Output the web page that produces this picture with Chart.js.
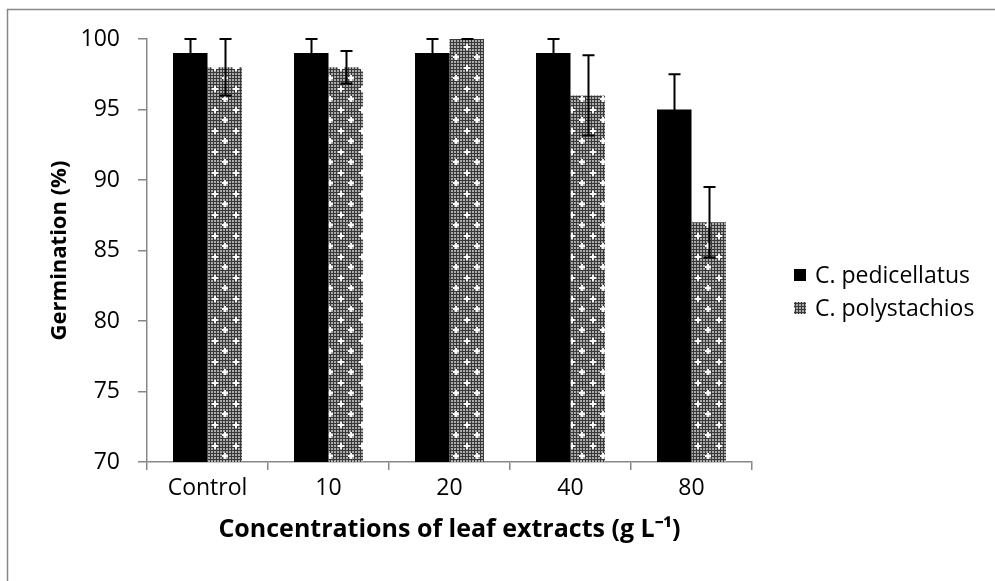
<!DOCTYPE html>
<html>
<head>
<meta charset="utf-8">
<script src="https://cdn.jsdelivr.net/npm/chart.js@4.4.1/dist/chart.umd.min.js"></script>
<style>
  html, body { margin: 0; padding: 0; background: #fff; }
  #wrap { width: 995px; height: 581px; }
</style>
</head>
<body>
<div id="wrap"><canvas id="c" width="995" height="581"></canvas></div>
<script>
const categories = ['Control', '10', '20', '40', '80'];
const pedicellatus = [99, 99, 99, 99, 95];
const pedicellatusErr = [1, 1, 1, 1, 2.5];
const polystachios = [98, 98, 100, 96, 87];
const polystachiosErr = [2, 1.15, 0, 2.85, 2.5];
const seriesNames = ['C. pedicellatus', 'C. polystachios'];
const yTitle = 'Germination (%)';
const xTitle = 'Concentrations of leaf extracts (g L\u207B\u00B9)';

const FONT = "'Open Sans', 'Liberation Sans', sans-serif";
const AXIS_GRAY = '#878787';

function makePattern() {
  const t = document.createElement('canvas');
  t.width = 21; t.height = 21;
  const g = t.getContext('2d');
  g.fillStyle = '#383838';
  g.fillRect(0, 0, 21, 21);
  g.fillStyle = '#ababab';
  for (let y = 0; y < 21; y += 3) {
    for (let x = 0; x < 21; x += 3) {
      g.fillRect(x + 1, y + 1, 2, 2);
    }
  }
  g.fillStyle = 'rgba(255,255,255,0.95)';
  [[5, 5], [15, 15]].forEach(([cx, cy]) => {
    g.fillRect(cx - 1, cy - 3, 2, 6);
    g.fillRect(cx - 3, cy - 1, 6, 2);
  });
  const ctx = document.getElementById('c').getContext('2d');
  return ctx.createPattern(t, 'repeat');
}
const pattern = makePattern();

const errors = [pedicellatusErr, polystachiosErr];

const extrasPlugin = {
  id: 'extras',
  afterDatasetsDraw(chart) {
    const ctx = chart.ctx;
    const y = chart.scales.y;
    ctx.save();
    ctx.strokeStyle = '#000';
    ctx.lineWidth = 2;
    chart.data.datasets.forEach((ds, di) => {
      const meta = chart.getDatasetMeta(di);
      meta.data.forEach((bar, i) => {
        const v = ds.data[i];
        const e = errors[di][i];
        const x = Math.round(bar.x) + 0.5;
        const yt = y.getPixelForValue(v + e);
        const yb = y.getPixelForValue(v - e);
        ctx.beginPath();
        ctx.moveTo(x, yt); ctx.lineTo(x, yb);
        ctx.moveTo(x - 6, yt); ctx.lineTo(x + 6, yt);
        ctx.moveTo(x - 6, yb); ctx.lineTo(x + 6, yb);
        ctx.stroke();
      });
    });
    ctx.restore();
  },
  afterDraw(chart) {
    const ctx = chart.ctx;
    const area = chart.chartArea;
    ctx.save();
    // outer frame (partly cropped)
    ctx.strokeStyle = AXIS_GRAY;
    ctx.lineWidth = 1.5;
    ctx.beginPath();
    ctx.moveTo(7.5, 581);
    ctx.lineTo(7.5, 9.5);
    ctx.lineTo(995, 9.5);
    ctx.stroke();
    // legend
    const lx = area.right + 42;
    const rows = [area.top + 236, area.top + 269];
    ctx.font = '23px ' + FONT;
    ctx.textBaseline = 'middle';
    [ '#000', pattern ].forEach((fill, k) => {
      const cy = rows[k];
      ctx.fillStyle = fill;
      ctx.fillRect(lx, cy - 6, 12, 12);
      ctx.fillStyle = '#000';
      ctx.fillText(seriesNames[k], lx + 21, cy + 1);
    });
    ctx.restore();
  }
};

new Chart(document.getElementById('c'), {
  type: 'bar',
  data: {
    labels: categories,
    datasets: [
      { label: seriesNames[0], data: pedicellatus, backgroundColor: '#000', borderWidth: 0,
        categoryPercentage: 0.57, barPercentage: 1.0 },
      { label: seriesNames[1], data: polystachios, backgroundColor: pattern, borderWidth: 0,
        categoryPercentage: 0.57, barPercentage: 1.0 }
    ]
  },
  options: {
    responsive: false,
    animation: false,
    layout: { padding: { left: 0, top: 39, right: 243, bottom: 0 } },
    plugins: {
      legend: { display: false },
      tooltip: { enabled: false }
    },
    scales: {
      x: {
        afterFit(s) { s.height = 119; },
        grid: { display: true, drawOnChartArea: false, drawTicks: true, tickLength: 8,
                color: AXIS_GRAY, lineWidth: 1.5, offset: true },
        border: { display: true, color: AXIS_GRAY, width: 1.5 },
        ticks: { color: '#000', font: { family: FONT, size: 23 }, padding: 5 },
        title: { display: true, text: xTitle, color: '#000',
                 font: { family: FONT, size: 25, weight: 'bold' }, padding: { top: 0, bottom: 36 } }
      },
      y: {
        min: 70, max: 100,
        afterFit(s) { s.width = 147; },
        grid: { display: true, drawOnChartArea: false, drawTicks: true, tickLength: 9,
                color: AXIS_GRAY, lineWidth: 1.5 },
        border: { display: true, color: AXIS_GRAY, width: 1.5 },
        ticks: { stepSize: 5, color: '#000', font: { family: FONT, size: 23 }, padding: 18 },
        title: { display: true, text: yTitle, color: '#000',
                 font: { family: FONT, size: 22, weight: 'bold' }, padding: { top: 47, bottom: 0 } }
      }
    }
  },
  plugins: [extrasPlugin]
});
</script>
</body>
</html>
